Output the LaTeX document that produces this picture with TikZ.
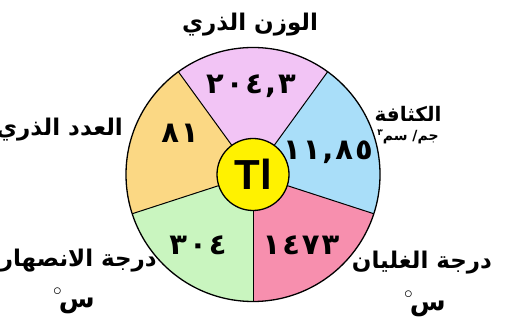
\documentclass[tikz,border=0pt]{standalone}
\usepackage{fontspec}
\usepackage{xcolor}
\usepackage{tikz}
\setmainfont{DejaVu Sans}
\newfontfamily\arabicfont[Script=Arabic]{DejaVu Sans}
\newfontfamily\symbfont{Liberation Sans}
\TeXXeTstate=1
\definecolor{atommass}{HTML}{F2C4F5}
\definecolor{density}{HTML}{A9DEF9}
\definecolor{boiling}{HTML}{F78FAE}
\definecolor{melting}{HTML}{C9F5BF}
\definecolor{atomnum}{HTML}{FBD884}
\definecolor{tlyellow}{HTML}{FFF200}
\tikzset{
  caption/.style={font=\arabicfont\bfseries\fontsize{23}{26}\selectfont, inner sep=0pt},
  unit/.style={font=\arabicfont\bfseries\fontsize{14}{16}\selectfont, inner sep=0pt},
  value/.style={font=\arabicfont\bfseries\fontsize{29}{32}\selectfont, inner sep=0pt}
}
\newcommand{\celsius}{\raisebox{12pt}{\fontsize{18}{18}\selectfont$\circ$}\hspace{-3pt}\beginR س\endR}
\newcommand{\gap}{\kern2pt}

\begin{document}
\begin{tikzpicture}[x=1pt,y=1pt]
          \useasboundingbox (0,0) rectangle (518,320);
          \clip (0,0) rectangle (518,320);
          \coordinate (o) at (253,145.5);
          % the five parts of the wheel
          \fill[atommass] (o) -- ++(54:127pt) arc[start angle=54, end angle=126, radius=127pt] -- cycle;
          \fill[atomnum] (o) -- ++(126:127pt) arc[start angle=126, end angle=198, radius=127pt] -- cycle;
          \fill[melting] (o) -- ++(198:127pt) arc[start angle=198, end angle=270, radius=127pt] -- cycle;
          \fill[boiling] (o) -- ++(-90:127pt) arc[start angle=-90, end angle=-18, radius=127pt] -- cycle;
          \fill[density] (o) -- ++(-18:127pt) arc[start angle=-18, end angle=54, radius=127pt] -- cycle;
          \foreach \a in {-90,-18,54,126,198} \draw[line width=1pt] (o) -- ++(\a:127pt);
          \draw[line width=1.3pt] (o) circle[radius=127pt];
          \node[draw, circle, fill=tlyellow, line width=1.3pt, minimum size=72pt, inner sep=0pt,
                font=\symbfont\bfseries\fontsize{42}{42}\selectfont] (tl) at (o) {Tl};
          % values
          \node[value] (mass) at (251,234) {٢\gap٠\gap٤\gap,\gap٣};
          \node[value] (dens) at (328,168) {١\gap١\gap,\gap٨\gap٥};
          \node[value] (num) at (180,187) {٨\gap١};
          \node[value] (boil) at (301,75) {١\gap٤\gap٧\gap٣};
          \node[value] (melt) at (198,75) {٣\gap٠\gap٤};
          % captions
          \node[caption] (massname) at (250,295) {\beginR الوزن الذري\endR};
          \node[caption, font=\arabicfont\bfseries\fontsize{20}{24}\selectfont] (densname) at (408,206) {\beginR الكثافة\endR};
          \node[unit] (densunit) at (408,183) {\beginR جم/ سم\raisebox{5pt}{\fontsize{9}{9}\selectfont ٣}\endR};
          \node[caption, anchor=east] (numname) at (123,190) {\beginR العدد الذري\endR};
          \node[caption, anchor=east] (meltname) at (157,59) {\beginR درجة الانصهار\endR};
          \node[caption, font=\arabicfont\bfseries\fontsize{26}{28}\selectfont] (meltunit) at (74,19) {\celsius};
          \node[caption] (boilname) at (422,57) {\beginR درجة الغليان\endR};
          \node[caption, font=\arabicfont\bfseries\fontsize{26}{28}\selectfont] (boilunit) at (425,16) {\celsius};
        \end{tikzpicture}
\end{document}
